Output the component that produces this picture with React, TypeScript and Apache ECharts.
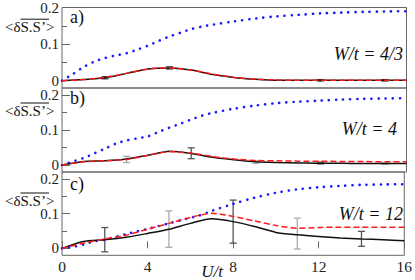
import React, { useEffect, useRef } from "react";
import * as echarts from "echarts";

const FONT = '"Liberation Serif", "DejaVu Serif", serif';

// U/t grid for the dotted (blue) curves
const U_BLUE = [0, 0.5, 1, 1.5, 2, 2.5, 3, 3.5, 4, 4.5, 5, 5.5, 6, 6.5, 7, 8, 9, 10, 11, 12, 13, 14, 15, 16];
const BLUE_A = [0, 0.018, 0.037, 0.052, 0.062, 0.069, 0.075, 0.085, 0.096, 0.109, 0.121, 0.131, 0.141, 0.148, 0.153, 0.162, 0.17, 0.176, 0.18, 0.184, 0.186, 0.188, 0.189, 0.19];
const BLUE_B = [0, 0.01, 0.02, 0.033, 0.047, 0.061, 0.07, 0.076, 0.082, 0.095, 0.107, 0.118, 0.13, 0.141, 0.149, 0.161, 0.17, 0.177, 0.181, 0.184, 0.187, 0.189, 0.19, 0.191];
const BLUE_C = [0, 0.004, 0.011, 0.02, 0.025, 0.033, 0.041, 0.049, 0.056, 0.064, 0.072, 0.08, 0.088, 0.096, 0.108, 0.128, 0.146, 0.16, 0.17, 0.176, 0.18, 0.183, 0.184, 0.185];

// U/t grid for the solid (black) and dashed (red) curves
const U_CURVE = [0, 1, 2, 3, 4, 5, 6, 7, 8, 9, 10, 11, 12, 13, 14, 15, 16];
const BLACK_A = [0, 0.003, 0.008, 0.02, 0.032, 0.035, 0.029, 0.017, 0.009, 0.004, 0.001, 0.001, 0.001, 0.001, 0.001, 0.001, 0.001];
const RED_A = [0, 0.003, 0.009, 0.02, 0.032, 0.035, 0.029, 0.018, 0.009, 0.004, 0.002, 0.001, 0.001, 0.001, 0.001, 0.001, 0.001];
const BLACK_B = [0, 0.01, 0.012, 0.017, 0.028, 0.039, 0.033, 0.022, 0.015, 0.009, 0.007, 0.006, 0.005, 0.005, 0.004, 0.004, 0.004];
const RED_B = [0, 0.009, 0.012, 0.016, 0.028, 0.038, 0.034, 0.024, 0.017, 0.013, 0.012, 0.011, 0.011, 0.01, 0.01, 0.009, 0.009];
const BLACK_C = [0, 0.02, 0.025, 0.032, 0.043, 0.055, 0.072, 0.085, 0.077, 0.063, 0.046, 0.039, 0.034, 0.03, 0.027, 0.025, 0.022];
const RED_C = [0, 0.015, 0.027, 0.038, 0.055, 0.072, 0.089, 0.101, 0.092, 0.079, 0.066, 0.058, 0.06, 0.061, 0.061, 0.061, 0.061];

// error bars
const ERR_U_A = [2, 5, 12, 15];
const ERR_LO_A = [0.005, 0.032, -0.001, -0.001];
const ERR_HI_A = [0.011, 0.038, 0.003, 0.003];
const ERR_U_B = [3, 6, 9, 12, 15];
const ERR_LO_B = [0.007, 0.018, 0.005, 0.003, 0.002];
const ERR_HI_B = [0.025, 0.049, 0.012, 0.008, 0.006];
const ERR_U_C = [2, 5, 8, 11, 14];
const ERR_LO_C = [-0.01, 0.003, 0.015, -0.002, 0.006];
const ERR_HI_C = [0.06, 0.108, 0.139, 0.087, 0.049];

// axis ticks
const X_MIN = 0;
const X_MAX = 16;
const X_STEP = 4;
const Y_MAJOR = [0, 0.1, 0.2];
const Y_MINOR = [0.05, 0.15];

const PANEL_LABELS = ["a)", "b)", "c)"];
const W_LABELS = ["W/t = 4/3", "W/t = 4", "W/t = 12"];
const Y_NAME = "<\u03b4S.S\u2019>";
const X_NAME = "U/t";

const pairs = (xs: number[], ys: number[]) => xs.map((x, i) => [x, ys[i]]);

export default function App() {
  const ref = useRef<HTMLDivElement>(null);
  useEffect(() => {
    if (!ref.current) return;
    const chart = echarts.init(ref.current, null, { renderer: "svg" });

    const layout = [
      { top: 6, height: 82, max: 0.2, lblY: 16.5, yNameY: 26.7, wX: 403, wY: 53.5 },
      { top: 88, height: 84, max: 0.22, lblY: 98, yNameY: 110.5, wX: 397, wY: 128.5 },
      { top: 172, height: 83.3, max: 0.22, lblY: 183.5, yNameY: 200.5, wX: 403, wY: 213.5 },
    ];
    const data = [
      { blue: BLUE_A, black: BLACK_A, red: RED_A, eu: ERR_U_A, lo: ERR_LO_A, hi: ERR_HI_A },
      { blue: BLUE_B, black: BLACK_B, red: RED_B, eu: ERR_U_B, lo: ERR_LO_B, hi: ERR_HI_B },
      { blue: BLUE_C, black: BLACK_C, red: RED_C, eu: ERR_U_C, lo: ERR_LO_C, hi: ERR_HI_C },
    ];

    const grid = layout.map((p) => ({
      left: 62,
      width: 344.5,
      top: p.top,
      height: p.height,
      show: true,
      borderColor: "#666",
      borderWidth: 1,
      backgroundColor: "transparent",
    }));

    const xAxis = layout.map((p, i) => ({
      type: "value",
      gridIndex: i,
      min: X_MIN,
      max: X_MAX,
      interval: X_STEP,
      axisLine: { show: false },
      splitLine: { show: false },
      axisTick: { show: i === 2, inside: true, length: 7, lineStyle: { color: "#666" } },
      axisLabel: { show: i === 2, margin: 3, fontSize: 15.5, fontFamily: FONT, color: "#222" },
    }));

    const yMajor = layout.map((p, i) => ({
      type: "value",
      gridIndex: i,
      position: "left",
      min: -0.02,
      max: p.max,
      axisLine: { show: false },
      splitLine: { show: false },
      axisTick: { show: true, inside: true, length: 8, customValues: Y_MAJOR, lineStyle: { color: "#666" } },
      axisLabel: {
        show: true,
        customValues: Y_MAJOR,
        margin: 3,
        fontSize: 15,
        lineHeight: 13,
        fontFamily: FONT,
        color: "#222",
        formatter: (v: number) => (Math.abs(v) < 1e-9 ? "0" : String(Math.round(v * 100) / 100)),
      },
    }));
    const yMinor = layout.map((p, i) => ({
      type: "value",
      gridIndex: i,
      position: "left",
      offset: 0,
      min: -0.02,
      max: p.max,
      axisLine: { show: false },
      splitLine: { show: false },
      axisTick: { show: true, inside: true, length: 5, customValues: Y_MINOR, lineStyle: { color: "#666" } },
      axisLabel: { show: false },
    }));

    const series: any[] = [];
    data.forEach((d, i) => {
      series.push({
        type: "custom",
        xAxisIndex: i,
        yAxisIndex: i,
        silent: true,
        z: 1,
        data: d.eu.map((u, k) => [u, d.lo[k], d.hi[k], k]),
        encode: { x: 0, y: [1, 2] },
        renderItem: (params: any, api: any) => {
          const x = api.value(0);
          const k = api.value(3);
          const p1 = api.coord([x, api.value(1)]);
          const p2 = api.coord([x, api.value(2)]);
          const stroke = i === 0 ? "#444" : k % 2 === (i === 1 ? 1 : 0) ? "#555" : "#aaa";
          const style = { stroke, lineWidth: 1.3 };
          const w = 3.5;
          return {
            type: "group",
            children: [
              { type: "line", shape: { x1: p1[0], y1: p1[1], x2: p2[0], y2: p2[1] }, style },
              { type: "line", shape: { x1: p1[0] - w, y1: p1[1], x2: p1[0] + w, y2: p1[1] }, style },
              { type: "line", shape: { x1: p2[0] - w, y1: p2[1], x2: p2[0] + w, y2: p2[1] }, style },
            ],
          };
        },
      });
      series.push({
        type: "line",
        xAxisIndex: i,
        yAxisIndex: i,
        data: pairs(U_BLUE, d.blue),
        showSymbol: false,
        smooth: 0.3,
        z: 2,
        lineStyle: { color: "#1a1aff", width: 2.6, type: [0.1, 7], cap: "round" },
      });
      series.push({
        type: "line",
        xAxisIndex: i,
        yAxisIndex: i,
        data: pairs(U_CURVE, d.black),
        showSymbol: false,
        smooth: 0.25,
        z: 3,
        lineStyle: { color: "#111", width: 1.5 },
      });
      series.push({
        type: "line",
        xAxisIndex: i,
        yAxisIndex: i,
        data: pairs(U_CURVE, d.red),
        showSymbol: false,
        smooth: 0.25,
        z: 4,
        lineStyle: { color: "#ff1a1a", width: 1.5, type: [6, 3] },
      });
    });

    const graphic: any[] = [];
    layout.forEach((p, i) => {
      graphic.push({
        type: "text",
        x: 70,
        y: p.lblY,
        style: { text: PANEL_LABELS[i], fontSize: 18, fontFamily: FONT, fill: "#111", verticalAlign: "middle" },
      });
      graphic.push({
        type: "text",
        x: p.wX,
        y: p.wY,
        style: {
          text: W_LABELS[i],
          fontSize: 18,
          fontStyle: "italic",
          fontFamily: FONT,
          fill: "#111",
          align: "right",
          verticalAlign: "middle",
        },
      });
      graphic.push({
        type: "text",
        x: 5,
        y: p.yNameY,
        style: { text: Y_NAME, fontSize: 15, fontFamily: FONT, fill: "#111", verticalAlign: "middle" },
      });
      graphic.push({
        type: "line",
        shape: { x1: 20.5, y1: p.yNameY - 7.5, x2: 49, y2: p.yNameY - 7.5 },
        style: { stroke: "#111", lineWidth: 1 },
      });
    });
    graphic.push({
      type: "text",
      x: 212,
      y: 271,
      style: {
        text: X_NAME,
        fontSize: 17,
        fontStyle: "italic",
        fontFamily: FONT,
        fill: "#111",
        align: "center",
        verticalAlign: "middle",
      },
    });

    chart.setOption({
      animation: false,
      grid,
      xAxis,
      yAxis: [...yMajor, ...yMinor],
      series,
      graphic,
    });
    return () => chart.dispose();
  }, []);
  return (
    <div
      ref={ref}
      style={{ position: "absolute", left: 0, top: 0, width: 415, height: 280, background: "#fff" }}
    />
  );
}
